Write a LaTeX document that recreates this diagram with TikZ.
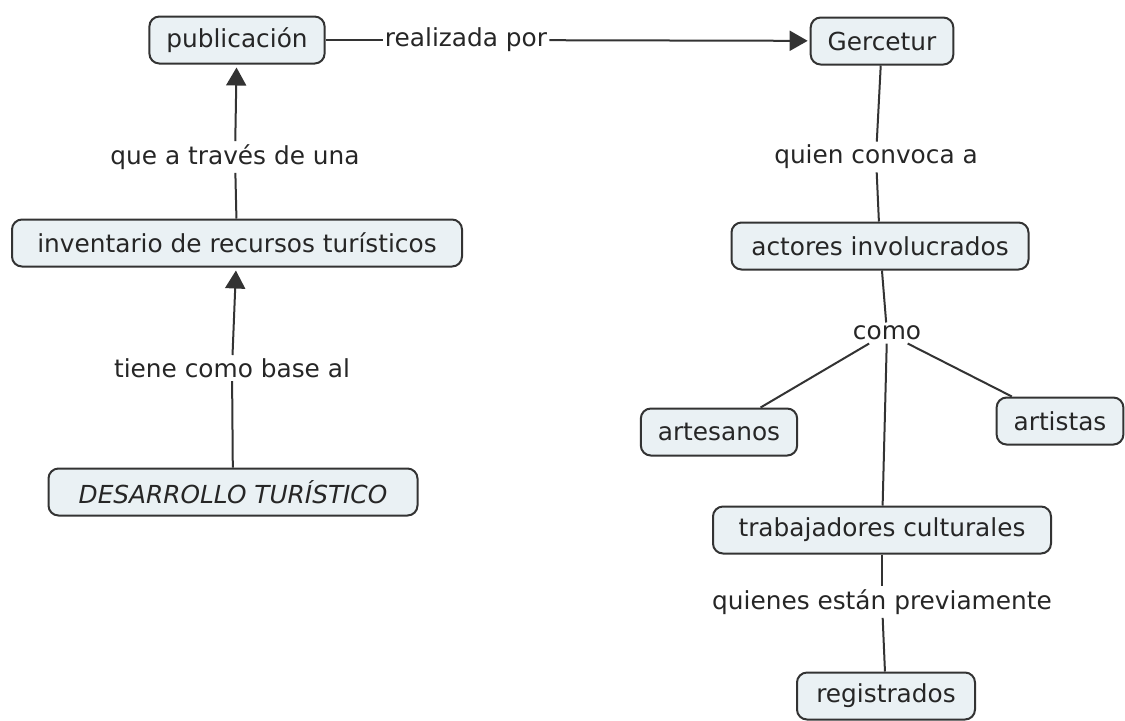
\documentclass[tikz,border=0pt]{standalone}
\usepackage{fontspec}
\setmainfont{DejaVu Sans}
\usetikzlibrary{arrows.meta}
\definecolor{cfill}{RGB}{234,241,244}
\definecolor{cline}{RGB}{51,51,51}

\begin{document}
\begin{tikzpicture}[x=0.5pt,y=-0.5pt,
    concept/.style={draw=cline,fill=cfill,line width=1pt,rounded corners=5pt,inner xsep=8.5pt,minimum height=23.5pt,text=black!85,font=\fontsize{12.4}{14}\selectfont},
    phrase/.style={inner xsep=1pt,inner ysep=1.5pt,text=black!85,font=\fontsize{12.4}{14}\selectfont},
    link/.style={draw=cline,line width=1pt},
    >={Triangle[length=9pt,width=10pt]}]
    \useasboundingbox (0,0) rectangle (1125,720);
    % Concepts
    \node[concept] (pub)  at (237,40)  {publicación};
    \node[concept] (gerc) at (882,41)  {Gercetur};
    \node[concept,minimum width=225pt] (inv) at (237,243) {inventario de recursos turísticos};
    \node[concept,minimum width=184.5pt] (des) at (233,492) {\itshape DESARROLLO TURÍSTICO};
    \node[concept,minimum width=148.5pt] (act) at (880,246) {actores involucrados};
    \node[concept] (arte) at (719,432) {artesanos};
    \node[concept] (arti) at (1060,421) {artistas};
    \node[concept,minimum width=169pt] (trab) at (882,530) {trabajadores culturales};
    \node[concept,minimum width=89pt] (reg) at (886,696) {registrados};
    % Linking phrases
    \node[phrase] (realiz) at (466,40)  {realizada por};
    \node[phrase] (atrav)  at (235,157) {que a través de una};
    \node[phrase] (base)   at (232,368) {tiene como base al};
    \node[phrase] (convoc) at (876,157) {quien convoca a};
    \node[phrase] (como)   at (887,333) {como};
    \node[phrase] (previa) at (882,602) {quienes están previamente};
    % Left branch
    \draw[link] (des) -- (base);
    \draw[link,->,shorten >=1.5pt] (base) -- (inv);
    \draw[link] (inv) -- (atrav);
    \draw[link,->,shorten >=1.5pt] (atrav) -- (pub);
    \draw[link] (pub) -- (realiz);
    \draw[link,->,shorten >=1pt] (realiz) -- (gerc);
    % Right branch
    \draw[link] (gerc) -- (convoc);
    \draw[link] (convoc) -- (act);
    \draw[link] (act) -- (como);
    \draw[link] (como) -- (arte);
    \draw[link] (como) -- (arti);
    \draw[link] (como) -- (trab);
    \draw[link] (trab) -- (previa);
    \draw[link] (previa) -- (reg);
\end{tikzpicture}
\end{document}
